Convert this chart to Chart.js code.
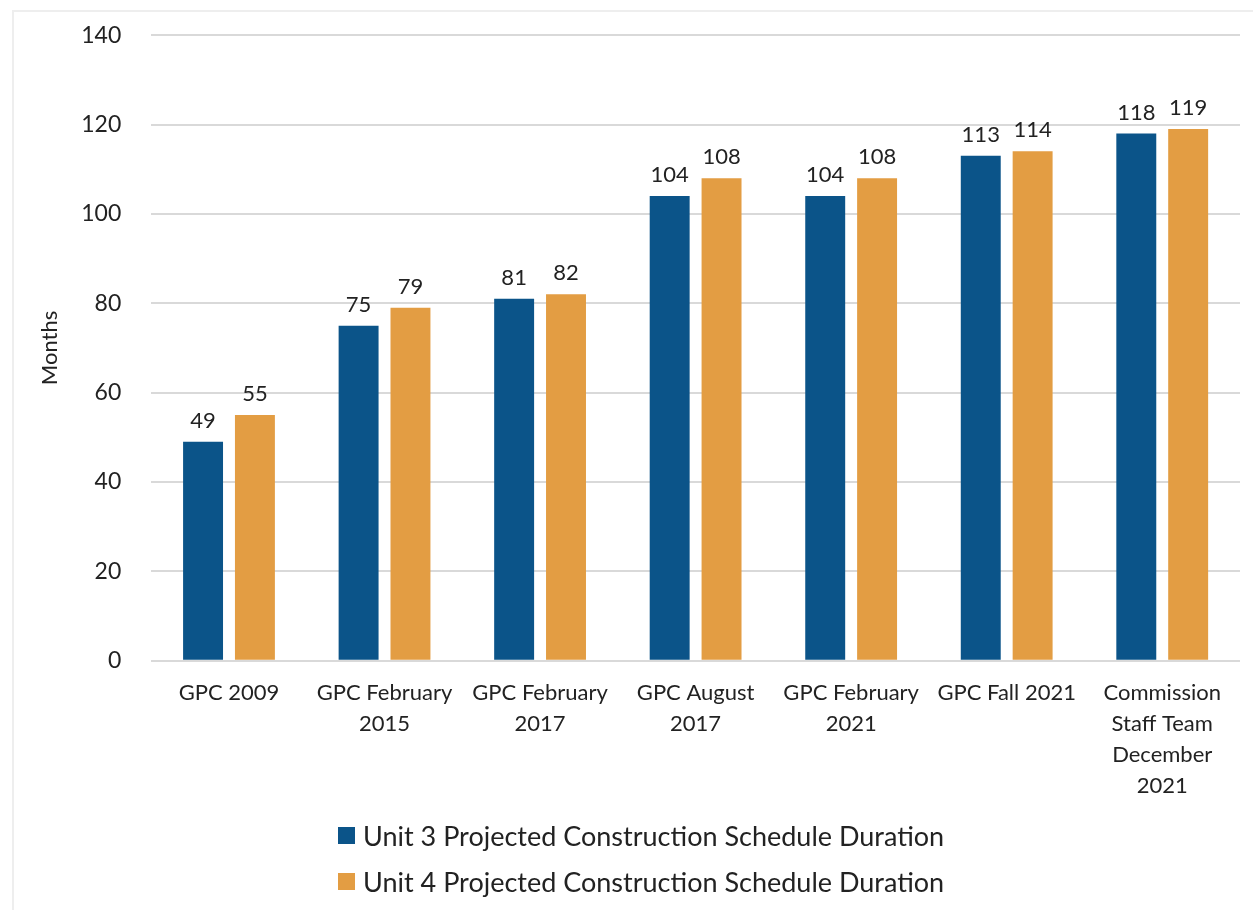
<!DOCTYPE html>
<html>
<head>
<meta charset="utf-8">
<script src="https://cdn.jsdelivr.net/npm/chart.js@4/dist/chart.umd.min.js"></script>
<style>
  html, body { margin: 0; padding: 0; background: #fff; }
  #wrap { position: relative; width: 1253px; height: 910px; }
  #frame { position: absolute; left: 12px; top: 10px; right: 0; bottom: 0; border-left: 2px solid #eee; border-top: 2px solid #eee; }
  #chart { position: absolute; left: 0; top: 0; }
  #legend { position: absolute; left: 338px; top: 812px; font-family: Lato, sans-serif; font-size: 27px; color: #222; }
  #legend div { height: 46px; display: flex; align-items: center; }
  #legend span.box { display: inline-block; width: 17px; height: 17px; margin-right: 8px; }
</style>
</head>
<body>
<div id="wrap">
  <div id="frame"></div>
  <canvas id="chart" width="1253" height="910"></canvas>
  <div id="legend"></div>
</div>
<script>
const categories = [
  "GPC 2009",
  ["GPC February", "2015"],
  ["GPC February", "2017"],
  ["GPC August", "2017"],
  ["GPC February", "2021"],
  "GPC Fall 2021",
  ["Commission", "Staff Team", "December", "2021"]
];
const unit3 = [49, 75, 81, 104, 104, 113, 118];
const unit4 = [55, 79, 82, 108, 108, 114, 119];
const seriesNames = [
  "Unit 3 Projected Construction Schedule Duration",
  "Unit 4 Projected Construction Schedule Duration"
];
const colors = ["#0B5489", "#E39D43"];

const FONT = "Lato, sans-serif";

// numbers above each bar
const valueLabels = {
  id: "valueLabels",
  afterDatasetsDraw(chart) {
    const ctx = chart.ctx;
    ctx.save();
    ctx.font = "22px " + FONT;
    ctx.fillStyle = "#222";
    ctx.textAlign = "center";
    ctx.textBaseline = "bottom";
    chart.data.datasets.forEach((ds, i) => {
      chart.getDatasetMeta(i).data.forEach((bar, j) => {
        ctx.fillText(ds.data[j], bar.x, bar.y - 10);
      });
    });
    ctx.restore();
  }
};

const chart = new Chart(document.getElementById("chart"), {
  type: "bar",
  data: {
    labels: categories,
    datasets: [
      { label: seriesNames[0], data: unit3, backgroundColor: colors[0] },
      { label: seriesNames[1], data: unit4, backgroundColor: colors[1] }
    ]
  },
  options: {
    responsive: false,
    animation: false,
    categoryPercentage: 0.667,
    barPercentage: 0.77,
    layout: { padding: { left: 46, right: 13, top: 7, bottom: 100 } },
    plugins: {
      legend: { display: false },
      tooltip: { enabled: false }
    },
    scales: {
      x: {
        grid: { display: false },
        border: { display: false },
        ticks: { font: { family: FONT, size: 22, lineHeight: 1.4 }, color: "#222", padding: 9, maxRotation: 0, autoSkip: false }
      },
      y: {
        min: 0,
        max: 140,
        ticks: { stepSize: 20, font: { family: FONT, size: 23, lineHeight: 0.45 }, color: "#222", padding: 30 },
        grid: { color: "#d9d9d9", lineWidth: 2, drawTicks: false },
        border: { display: false },
        title: { display: true, text: "Months", font: { family: FONT, size: 22, lineHeight: 0.1 }, color: "#222", padding: { top: 3, bottom: 0 } }
      }
    }
  },
  plugins: [valueLabels]
});

const legend = document.getElementById("legend");
chart.data.datasets.forEach(ds => {
  const row = document.createElement("div");
  const box = document.createElement("span");
  box.className = "box";
  box.style.background = ds.backgroundColor;
  row.appendChild(box);
  row.appendChild(document.createTextNode(ds.label));
  legend.appendChild(row);
});
</script>
</body>
</html>
